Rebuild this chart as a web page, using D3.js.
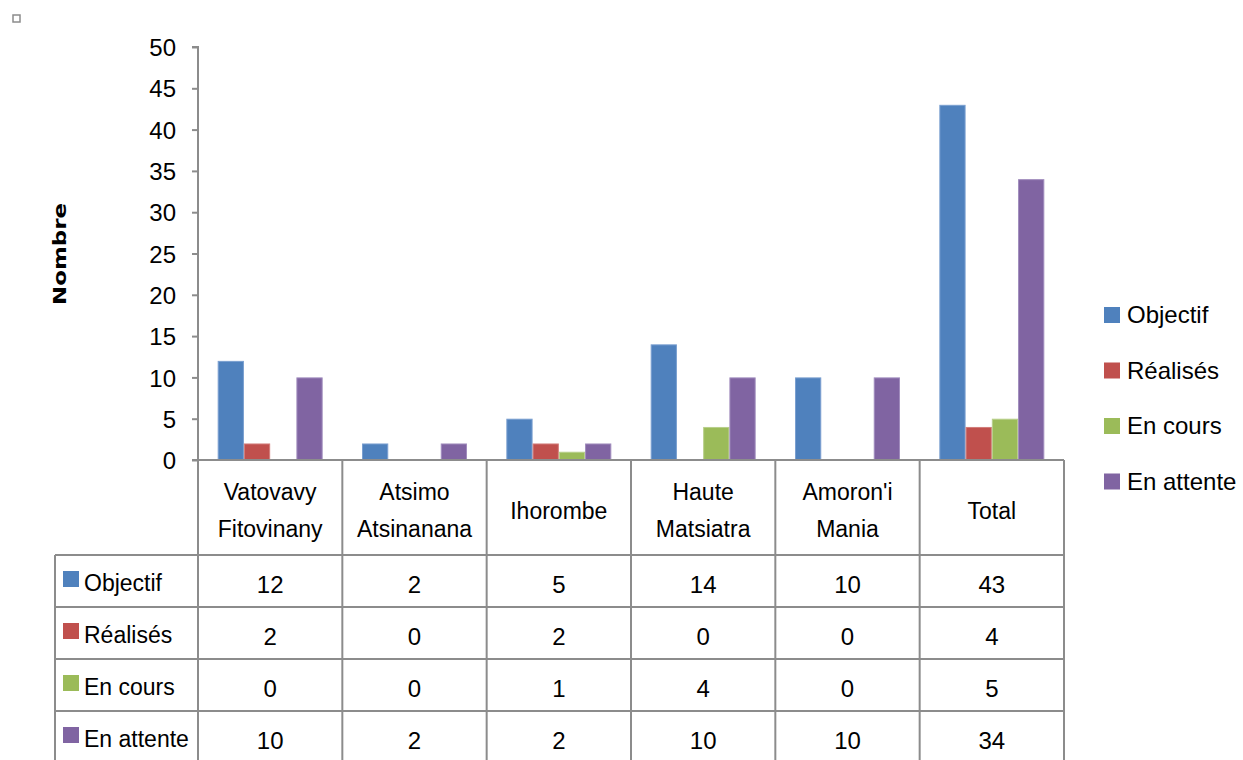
<!DOCTYPE html>
<html>
<head>
<meta charset="utf-8">
<script src="https://cdn.jsdelivr.net/npm/d3@7"></script>
<style>
  html, body { margin: 0; padding: 0; background: #fff; }
  svg text { font-family: "Liberation Sans", Arial, sans-serif; fill: #000; }
</style>
</head>
<body>
<svg id="chart" width="1243" height="760"></svg>
<script>
// Regions (two-line labels split on "\n")
const categories = ["Vatovavy\nFitovinany", "Atsimo\nAtsinanana", "Ihorombe", "Haute\nMatsiatra", "Amoron'i\nMania", "Total"];
const seriesNames = ["Objectif", "Réalisés", "En cours", "En attente"];
const objectif  = [12, 2, 5, 14, 10, 43];
const realises  = [2, 0, 2, 0, 0, 4];
const enCours   = [0, 0, 1, 4, 0, 5];
const enAttente = [10, 2, 2, 10, 10, 34];
const yTicks = [0, 5, 10, 15, 20, 25, 30, 35, 40, 45, 50];
const yTitle = "Nombre";

const seriesValues = [objectif, realises, enCours, enAttente];
const colors = ["#4F81BD", "#C0504D", "#9BBB59", "#8064A2"];
const edgeColors = ["#7a9fd0", "#d27c79", "#b8cf8a", "#a08cbd"];
const gridColor = "#8c8c8c";

const svg = d3.select("#chart");

const plotLeft = 198, plotRight = 1064, plotTop = 47, plotBottom = 460;
const tableLeft = 55, headerBottom = 555, rowH = 52, tableBottom = 770;

const x = d3.scaleBand().domain(d3.range(categories.length)).range([plotLeft, plotRight]).paddingInner(0).paddingOuter(0);
const xs = d3.scaleBand().domain(d3.range(seriesNames.length)).range([0, x.bandwidth()]).paddingInner(0).paddingOuter(0.75);
const y = d3.scaleLinear().domain([0, 50]).range([plotBottom, plotTop]);

// small marker in the top-left corner
svg.append("rect").attr("x", 13).attr("y", 15).attr("width", 7).attr("height", 7)
  .attr("fill", "none").attr("stroke", "#8c8c8c").attr("stroke-width", 1.5);

// bars
seriesValues.forEach((vals, si) => {
  svg.append("g").selectAll("rect").data(vals.map((v, i) => ({v, i})).filter(d => d.v > 0)).join("rect")
    .attr("x", d => x(d.i) + xs(si) + 0.5)
    .attr("width", xs.bandwidth() - 1)
    .attr("y", d => y(d.v) + 0.5)
    .attr("height", d => y(0) - y(d.v) - 0.5)
    .attr("fill", colors[si])
    .attr("stroke", edgeColors[si])
    .attr("stroke-width", 1);
});

// y axis
const yAxis = d3.axisLeft(y).tickValues(yTicks).tickSize(6).tickPadding(16);
const ga = svg.append("g").attr("transform", `translate(${plotLeft},0)`).call(yAxis);
ga.select(".domain").attr("stroke", gridColor).attr("stroke-width", 2).attr("d", `M-6,${plotTop}H0V${plotBottom}`);
ga.selectAll(".tick line").attr("stroke", gridColor).attr("stroke-width", 2);
ga.selectAll(".tick text").attr("font-size", 24).attr("font-family", null).attr("dy", "0.36em");

// y title
svg.append("text").attr("transform", "translate(66,254) rotate(-90)")
  .attr("text-anchor", "middle").attr("font-size", 17).attr("font-weight", "bold")
  .attr("textLength", 102).attr("lengthAdjust", "spacingAndGlyphs")
  .style("font-family", "'DejaVu Sans', sans-serif").text(yTitle);

// data table grid
const grid = svg.append("g").attr("stroke", gridColor).attr("stroke-width", 2).attr("fill", "none");
grid.append("line").attr("x1", plotLeft - 6).attr("x2", plotRight).attr("y1", plotBottom).attr("y2", plotBottom);
for (let r = 0; r <= seriesNames.length; r++) {
  const yy = headerBottom + r * rowH;
  grid.append("line").attr("x1", tableLeft).attr("x2", plotRight).attr("y1", yy).attr("y2", yy);
}
grid.append("line").attr("x1", tableLeft).attr("x2", tableLeft).attr("y1", headerBottom).attr("y2", tableBottom);
d3.range(categories.length + 1).forEach(i => {
  const xx = i < categories.length ? x(i) : plotRight;
  grid.append("line").attr("x1", xx).attr("x2", xx).attr("y1", plotBottom).attr("y2", tableBottom);
});

// category headers
categories.forEach((c, i) => {
  const lines = c.split("\n");
  const cx = x(i) + x.bandwidth() / 2;
  const t = svg.append("text").attr("text-anchor", "middle").attr("font-size", 23);
  if (lines.length === 1) {
    t.attr("x", cx).attr("y", 519).text(lines[0]);
  } else {
    lines.forEach((l, k) => t.append("tspan").attr("x", cx).attr("y", 500 + k * 37).text(l));
  }
});

// table rows: legend key + values
seriesNames.forEach((name, si) => {
  const top = headerBottom + si * rowH;
  svg.append("rect").attr("x", 63).attr("y", top + 16).attr("width", 16).attr("height", 16).attr("fill", colors[si]);
  svg.append("text").attr("x", 84).attr("y", top + 36).attr("font-size", 23).text(name);
  seriesValues[si].forEach((v, i) => {
    svg.append("text").attr("x", x(i) + x.bandwidth() / 2).attr("y", top + 38)
      .attr("text-anchor", "middle").attr("font-size", 24).text(v);
  });
});

// legend on the right
seriesNames.forEach((name, si) => {
  const cy = 315 + si * 55.5;
  svg.append("rect").attr("x", 1104).attr("y", cy - 8).attr("width", 16).attr("height", 16).attr("fill", colors[si]);
  svg.append("text").attr("x", 1127).attr("y", cy + 8).attr("font-size", 24).text(name);
});
</script>
</body>
</html>
